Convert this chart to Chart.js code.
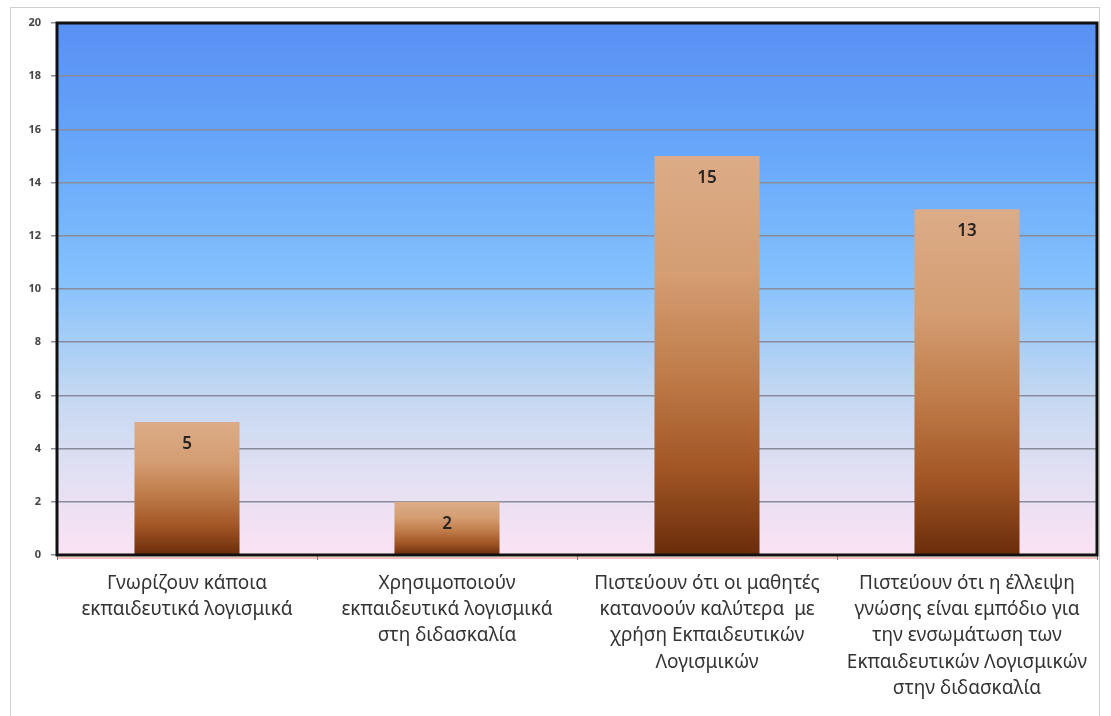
<!DOCTYPE html>
<html>
<head>
<meta charset="utf-8">
<script src="https://cdn.jsdelivr.net/npm/chart.js@4.4.1/dist/chart.umd.min.js"></script>
<style>
  html, body { margin: 0; padding: 0; background: #fff; }
  #wrap { position: relative; width: 1111px; height: 716px; overflow: hidden; }
  #frame { position: absolute; left: 10px; top: 7px; width: 1090px; height: 720px;
           border: 1px solid #cfcfcf; box-sizing: border-box; }
  canvas { position: absolute; left: 0; top: 0; }
</style>
</head>
<body>
<div id="wrap">
  <div id="frame"></div>
  <canvas id="c" width="1111" height="716"></canvas>
</div>
<script>
// Survey answers: number of teachers per statement
const categories = [
  ["Γνωρίζουν κάποια", "εκπαιδευτικά λογισμικά"],
  ["Χρησιμοποιούν", "εκπαιδευτικά λογισμικά", "στη διδασκαλία"],
  ["Πιστεύουν ότι οι μαθητές", "κατανοούν καλύτερα  με", "χρήση Εκπαιδευτικών", "Λογισμικών"],
  ["Πιστεύουν ότι η έλλειψη", "γνώσης είναι εμπόδιο για", "την ενσωμάτωση των", "Εκπαιδευτικών Λογισμικών", "στην διδασκαλία"]
];
const counts = [5, 2, 15, 13];
const yTicks = [0, 2, 4, 6, 8, 10, 12, 14, 16, 18, 20];

// Sky-to-pink backdrop inside the plot area, black frame around it
const plotBackdrop = {
  id: 'plotBackdrop',
  beforeDraw(chart) {
    const { ctx, chartArea: a } = chart;
    const g = ctx.createLinearGradient(0, a.top, 0, a.bottom);
    g.addColorStop(0.00, '#5990f4');
    g.addColorStop(0.25, '#68a8fa');
    g.addColorStop(0.48, '#84c1fd');
    g.addColorStop(0.70, '#c4d8f1');
    g.addColorStop(0.85, '#e2e0f3');
    g.addColorStop(1.00, '#fbe2f2');
    ctx.save();
    ctx.fillStyle = g;
    ctx.fillRect(a.left, a.top, a.right - a.left, a.bottom - a.top);
    ctx.restore();
  },
  afterDatasetsDraw(chart) {
    const { ctx, chartArea: a } = chart;
    ctx.save();
    // soft reddish shadow under the base line
    ctx.strokeStyle = 'rgba(230,140,130,0.55)';
    ctx.lineWidth = 2;
    ctx.beginPath();
    ctx.moveTo(a.left, a.bottom + 3);
    ctx.lineTo(a.right, a.bottom + 3);
    ctx.stroke();
    ctx.strokeStyle = '#111';
    ctx.lineWidth = 3;
    ctx.strokeRect(a.left, a.top, a.right - a.left, a.bottom - a.top);
    ctx.restore();
  }
};

// Value written near the top of each bar
const valueLabels = {
  id: 'valueLabels',
  afterDatasetsDraw(chart) {
    const { ctx } = chart;
    const meta = chart.getDatasetMeta(0);
    ctx.save();
    ctx.font = '600 17px "Noto Sans", sans-serif';
    ctx.fillStyle = '#2a2420';
    ctx.textAlign = 'center';
    ctx.textBaseline = 'middle';
    meta.data.forEach((bar, i) => {
      ctx.fillText(String(counts[i]), bar.x, bar.y + 22);
    });
    ctx.restore();
  }
};

function barGradient(context) {
  const chart = context.chart;
  if (!chart.chartArea) return '#b0683a';
  const y = chart.scales.y;
  const top = y.getPixelForValue(context.raw);
  const bottom = y.getPixelForValue(0);
  const g = chart.ctx.createLinearGradient(0, top, 0, bottom);
  g.addColorStop(0.00, '#dcac88');
  g.addColorStop(0.30, '#d49d72');
  g.addColorStop(0.55, '#bf7b49');
  g.addColorStop(0.78, '#a25626');
  g.addColorStop(1.00, '#6a2c0a');
  return g;
}

new Chart(document.getElementById('c'), {
  type: 'bar',
  data: {
    labels: categories,
    datasets: [{
      data: counts,
      backgroundColor: barGradient,
      borderWidth: 0,
      categoryPercentage: 0.8,
      barPercentage: 0.505
    }]
  },
  options: {
    responsive: false,
    animation: false,
    devicePixelRatio: 1,
    layout: { padding: { left: 0, top: 23, right: 14, bottom: 0 } },
    plugins: { legend: { display: false }, tooltip: { enabled: false } },
    scales: {
      x: {
        afterFit(s) { s.height = 161; },
        grid: {
          offset: true,
          drawOnChartArea: false,
          color: '#666',
          tickLength: 5,
          lineWidth: 1
        },
        border: { display: false },
        ticks: {
          color: '#333',
          padding: 11,
          maxRotation: 0,
          autoSkip: false,
          font: { family: '"Noto Sans", sans-serif', size: 19, lineHeight: 1.37 }
        }
      },
      y: {
        min: 0,
        max: 20,
        afterFit(s) { s.width = 57; },
        afterBuildTicks(s) { s.ticks = yTicks.map(v => ({ value: v })); },
        grid: {
          color: '#8a8c9c',
          lineWidth: 1.5,
          tickLength: 6
        },
        border: { display: false },
        ticks: {
          color: '#444',
          padding: 10,
          font: { family: '"Noto Sans", sans-serif', size: 11, weight: 'bold' }
        }
      }
    }
  },
  plugins: [plotBackdrop, valueLabels]
});
</script>
</body>
</html>
